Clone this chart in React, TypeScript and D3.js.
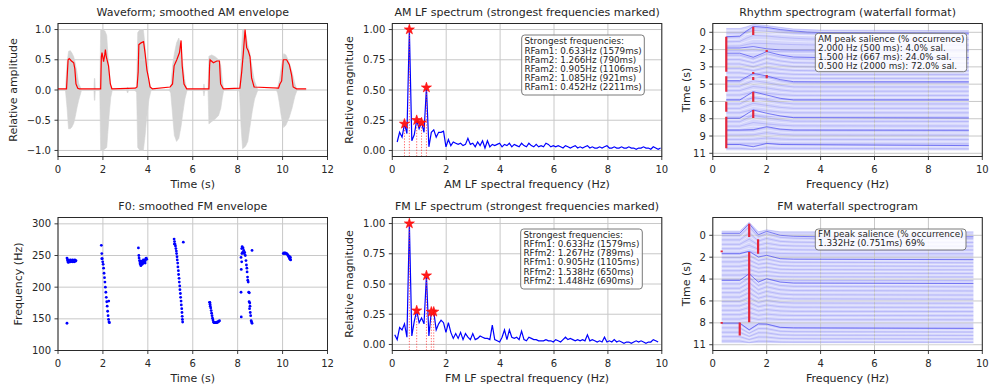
import React from "react";
import * as d3 from "d3";

const FONT = "'DejaVu Sans', sans-serif";
const TXT = "#262626";

// ---------- layout ----------
const COLS = [58, 392.3, 712.8];
const ROWS = [23.5, 217.5];
const PW = 269.5;
const PH = 133;

// ---------- data: waveform (envelope of the gray waveform) ----------
const wfT = [0, 0.33, 0.4, 0.47, 0.55, 0.62, 0.7, 0.77, 0.84, 0.92, 1.05,
  1.6, 1.62, 1.64, 1.66,
  1.86, 1.9, 2.0, 2.1, 2.17, 2.22, 2.28, 2.35, 2.42,
  3.05, 3.1, 3.15,
  3.42, 3.5, 3.55, 3.65, 3.8, 3.88, 3.95, 4.05, 4.15,
  4.95, 5.02, 5.1, 5.18, 5.28, 5.38, 5.48, 5.55, 5.65, 5.75,
  6.46, 6.5, 6.54,
  6.68, 6.72, 6.85, 7.0, 7.15, 7.25, 7.32, 7.38,
  8.0, 8.08, 8.15, 8.22, 8.35, 8.45, 8.55, 8.65, 8.75, 8.9,
  9.72, 9.78, 9.85, 9.95, 10.05, 10.15, 10.3, 10.42, 10.55, 10.65, 11.05];
const wfHi = [0, 0, 0.44, 0.64, 0.65, 0.61, 0.55, 0.44, 0.3, 0.11, 0,
  0, 0.19, 0.19, 0,
  0, 1.0, 1.0, 0.97, 0.9, 0.6, 0.3, 0.08, 0,
  0, 0.05, 0,
  0, 0.04, 0.95, 1.0, 1.0, 0.72, 0.4, 0.15, 0,
  0, 0.05, 0.4, 0.6, 0.78, 0.86, 0.7, 0.45, 0.15, 0,
  0, 0.1, 0,
  0, 0.56, 0.58, 0.55, 0.5, 0.4, 0.15, 0,
  0, 0.03, 0.5, 1.0, 0.95, 0.75, 0.6, 0.35, 0.15, 0,
  0, 0.05, 0.15, 0.4, 0.6, 0.58, 0.45, 0.3, 0.1, 0, 0];
const wfLo = [0, 0, -0.28, -0.64, -0.64, -0.61, -0.55, -0.44, -0.3, -0.17, 0,
  0, -0.17, -0.17, 0,
  0, -1.0, -1.0, -0.97, -0.95, -0.7, -0.4, -0.12, 0,
  0, -0.05, 0,
  0, -0.04, -0.95, -1.0, -1.0, -0.75, -0.45, -0.15, 0,
  0, -0.05, -0.4, -0.75, -0.85, -0.8, -0.6, -0.4, -0.15, 0,
  0, -0.1, 0,
  0, -0.56, -0.52, -0.48, -0.42, -0.3, -0.12, 0,
  0, -0.03, -0.6, -0.97, -0.93, -0.85, -0.6, -0.35, -0.15, 0,
  0, -0.05, -0.2, -0.45, -0.62, -0.58, -0.45, -0.3, -0.1, 0, 0];

// smoothed AM envelope (red)
const amEnvT = [0, 0.38, 0.42, 0.45, 0.5, 0.6, 0.7, 0.75, 0.8, 0.88, 0.95,
  1.9, 1.93, 1.96, 2.03, 2.08, 2.11, 2.15, 2.25, 2.33, 2.4,
  3.44, 3.52, 3.57, 3.6, 3.7, 3.81, 3.88, 3.96, 4.03, 4.1, 4.2,
  4.99, 5.1, 5.17, 5.29, 5.41, 5.48, 5.53, 5.61, 5.73,
  6.72, 6.75, 6.77, 6.92, 7.07, 7.19, 7.24, 7.36,
  8.1, 8.18, 8.25, 8.3, 8.33, 8.4, 8.47, 8.55, 8.62, 8.73,
  9.82, 9.88, 9.96, 10.03, 10.18, 10.3, 10.4, 10.47, 10.62, 11.05];
const amEnvV = [0.02, 0.02, 0.3, 0.5, 0.52, 0.48, 0.45, 0.35, 0.1, 0.03, 0.02,
  0.02, 0.55, 0.62, 0.47, 0.58, 0.67, 0.55, 0.4, 0.1, 0.02,
  0.03, 0.05, 0.3, 0.75, 0.78, 0.8, 0.6, 0.33, 0.2, 0.05, 0.02,
  0.05, 0.1, 0.4, 0.5, 0.62, 0.82, 0.4, 0.1, 0.02,
  0.02, 0.4, 0.5, 0.45, 0.48, 0.48, 0.1, 0.02,
  0.03, 0.3, 0.6, 0.85, 1.0, 0.7, 0.65, 0.55, 0.2, 0.05,
  0.03, 0.1, 0.15, 0.5, 0.5, 0.42, 0.25, 0.05, 0.02, 0.02];

// ---------- data: F0 points (time s, Hz) ----------
const f0Points: [number, number][] = [
  [0.4, 143],
  [0.4, 246], [0.42, 243], [0.44, 240], [0.46, 239], [0.48, 240], [0.5, 241], [0.52, 240], [0.54, 241], [0.56, 240],
  [0.58, 241], [0.6, 242], [0.62, 241], [0.64, 240], [0.66, 241], [0.68, 242], [0.7, 241], [0.72, 240], [0.74, 241],
  [0.76, 242], [0.78, 241], [0.8, 242], [0.45, 243], [0.55, 243], [0.65, 243], [0.75, 243],
  [1.93, 266], [1.95, 253], [1.97, 245], [1.99, 240], [2.01, 236], [2.03, 230], [2.05, 222], [2.07, 215], [2.09, 208],
  [2.11, 200], [2.13, 192], [2.15, 184], [2.17, 177], [2.19, 170], [2.21, 162], [2.23, 155], [2.25, 149], [2.27, 145],
  [2.29, 144], [2.26, 178], [1.95, 245],
  [3.58, 262], [3.6, 250], [3.61, 246], [3.63, 242], [3.65, 238], [3.67, 236], [3.69, 234], [3.71, 236], [3.73, 238],
  [3.75, 236], [3.77, 240], [3.79, 238], [3.81, 241], [3.83, 239], [3.85, 242], [3.87, 241], [3.89, 243], [3.91, 245],
  [3.93, 246], [3.95, 244], [3.66, 241], [3.72, 241], [3.8, 243], [3.88, 238],
  [5.17, 276], [5.19, 272], [5.21, 268], [5.23, 265], [5.25, 261], [5.27, 257], [5.28, 253], [5.3, 248], [5.31, 243],
  [5.33, 238], [5.34, 232], [5.36, 226], [5.37, 220], [5.39, 214], [5.4, 208], [5.42, 202], [5.43, 196], [5.45, 190],
  [5.46, 184], [5.48, 178], [5.49, 172], [5.51, 166], [5.52, 160], [5.53, 154], [5.54, 149], [5.55, 145], [5.58, 271],
  [5.18, 268],
  [6.75, 176], [6.77, 173], [6.78, 170], [6.8, 167], [6.82, 163], [6.84, 159], [6.86, 155], [6.88, 151], [6.9, 148],
  [6.92, 145], [6.95, 144], [6.98, 144], [7.01, 144], [7.04, 144], [7.07, 144], [7.1, 145], [7.13, 145], [7.16, 146],
  [7.19, 147], [6.76, 176],
  [8.18, 261], [8.2, 264], [8.24, 262], [8.27, 258], [8.22, 255], [8.29, 253], [8.19, 253], [8.31, 255], [8.34, 250],
  [8.15, 247], [8.37, 242], [8.18, 240], [8.39, 235], [8.41, 230], [8.16, 228], [8.42, 224], [8.44, 216], [8.45, 211],
  [8.47, 208], [8.15, 192], [8.49, 192], [8.52, 191], [8.51, 177], [8.54, 175], [8.55, 170], [8.53, 166], [8.56, 160],
  [8.58, 155], [8.6, 147], [8.62, 145], [8.64, 143], [8.16, 153], [8.64, 258],
  [10.03, 253], [10.06, 254], [10.09, 253], [10.12, 254], [10.15, 253], [10.18, 253], [10.21, 252], [10.24, 250],
  [10.27, 248], [10.3, 246], [10.33, 244], [10.36, 243], [10.3, 249], [10.35, 247],
];

// ---------- data: LF spectra ----------
const SPEC_STEP = 0.0905; // Hz per bin
const amSpecStart = 2; // first bin index
const amSpec = [
  0.07, 0.15, 0.11, 0.22, 0.14, 1.0, 0.08, 0.13, 0.25, 0.18,
  0.23, 0.15, 0.52, 0.03, 0.15, 0.17, 0.11, 0.15, 0.15, 0.16,
  0.03, 0.09, 0.04, 0.07, 0.06, 0.05, 0.06, 0.04, 0.05, 0.1,
  0.05, 0.06, 0.03, 0.07, 0.04, 0.08, 0.02, 0.08, 0.03, 0.05,
  0.04, 0.05, 0.06, 0.03, 0.05, 0.04, 0.06, 0.03, 0.05, 0.04,
  0.03, 0.06, 0.04, 0.03, 0.06, 0.04, 0.03, 0.05, 0.03, 0.04,
  0.03, 0.06, 0.05, 0.03, 0.04, 0.03, 0.04, 0.03, 0.02, 0.04,
  0.03, 0.02, 0.03, 0.04, 0.02, 0.03, 0.02, 0.03, 0.04, 0.02,
  0.03, 0.02, 0.02, 0.03, 0.02, 0.03, 0.04, 0.02, 0.02, 0.03,
  0.02, 0.02, 0.03, 0.02, 0.02, 0.03, 0.02, 0.02, 0.01, 0.02,
  0.02, 0.03, 0.02, 0.02, 0.01, 0.03, 0.02, 0.01, 0.02];
const fmSpecStart = 1;
const fmSpec = [
  0.08, 0.04, 0.14, 0.12, 0.17, 0.06, 1.0, 0.07, 0.19, 0.28,
  0.18, 0.22, 0.17, 0.57, 0.07, 0.27, 0.27, 0.12, 0.17, 0.2,
  0.18, 0.1, 0.18, 0.1, 0.05, 0.09, 0.05, 0.1, 0.04, 0.09,
  0.06, 0.04, 0.09, 0.04, 0.05, 0.07, 0.06, 0.05, 0.05, 0.04,
  0.16, 0.04, 0.03, 0.02, 0.06, 0.12, 0.04, 0.12, 0.06, 0.05,
  0.06, 0.04, 0.11, 0.04, 0.03, 0.06, 0.05, 0.04, 0.04, 0.03,
  0.03, 0.03, 0.04, 0.03, 0.03, 0.02, 0.04, 0.03, 0.02, 0.04,
  0.06, 0.04, 0.05, 0.04, 0.03, 0.04, 0.03, 0.04, 0.03, 0.08,
  0.03, 0.04, 0.03, 0.02, 0.03, 0.02, 0.06, 0.02, 0.03, 0.02,
  0.04, 0.02, 0.03, 0.02, 0.01, 0.02, 0.02, 0.01, 0.02, 0.03,
  0.02, 0.03, 0.02, 0.01, 0.02, 0.02, 0.04, 0.03, 0.02];

const amPeakF = [0.633, 1.266, 0.905, 1.085, 0.452];
const amPeakV = [1.0, 0.52, 0.25, 0.23, 0.22];
const fmPeakF = [0.633, 1.267, 0.905, 1.538, 1.448];
const fmPeakV = [1.0, 0.57, 0.28, 0.27, 0.27];

const amLegend = ["Strongest frequencies:", "RFam1: 0.633Hz (1579ms)", "RFam2: 1.266Hz (790ms)",
  "RFam2: 0.905Hz (1106ms)", "RFam2: 1.085Hz (921ms)", "RFam1: 0.452Hz (2211ms)"];
const fmLegend = ["Strongest frequencies:", "RFfm1: 0.633Hz (1579ms)", "RFfm2: 1.267Hz (789ms)",
  "RFfm1: 0.905Hz (1105ms)", "RFfm2: 1.538Hz (650ms)", "RFfm2: 1.448Hz (690ms)"];

// ---------- data: waterfalls ----------
const amWfTickVals = [0, 11 / 7, 22 / 7, 33 / 7, 44 / 7, 55 / 7, 66 / 7, 11];
const amWfTickLabels = ["0", "2", "3", "5", "6", "8", "9", "11"];
const fmWfTickVals = [0, 2.2, 4.4, 6.6, 8.8, 11];
const fmWfTickLabels = ["0", "2", "4", "6", "8", "11"];

const amWfTop: [number, number][] = [[0.5, -0.35], [1.0, -0.35], [1.25, -0.5], [1.5, -0.72], [2.0, -0.62], [2.5, -0.45], [3.0, -0.3], [4.0, -0.2], [9.5, -0.15]];
const amWfRows: [number, number][][] = [
  [[0.5, 0.4], [1.0, 0.35], [1.25, -0.12], [1.5, -0.53], [2.0, -0.44], [2.5, -0.25], [3.0, -0.12], [3.5, -0.03], [4.0, 0.02], [9.5, 0.06]],
  [[0.5, 1.43], [1.0, 1.43], [1.5, 1.3], [2.0, 1.5], [2.5, 1.6], [3.0, 1.62], [9.5, 1.62]],
  [[0.5, 1.9], [1.0, 1.9], [1.5, 2.27], [2.0, 1.76], [2.5, 2.06], [3.0, 2.25], [4.0, 2.3], [9.5, 2.3]],
  [[0.5, 4.4], [1.0, 4.4], [1.5, 3.73], [2.0, 3.97], [2.5, 4.3], [3.0, 4.49], [4.0, 4.5], [9.5, 4.5]],
  [[0.5, 6.15], [1.0, 6.15], [1.5, 5.4], [2.0, 5.7], [2.5, 6.0], [3.0, 6.15], [9.5, 6.15]],
  [[0.5, 7.82], [1.0, 7.82], [1.5, 7.06], [2.0, 7.36], [2.5, 7.6], [3.0, 7.76], [9.5, 7.8]],
  [[0.5, 8.88], [1.0, 8.88], [1.5, 8.85], [2.0, 8.58], [2.5, 8.8], [3.0, 8.88], [9.5, 8.9]],
  [[0.5, 10.2], [1.0, 10.2], [1.5, 10.4], [2.0, 10.1], [2.5, 10.2], [9.5, 10.3]],
];
const amWfBottom = 10.75;
// red peak markers: [freq, t start, t end]
const amWfRuns: [number, number, number][] = [
  [0.5, 0.4, 3.58], [0.5, 4.0, 5.4], [0.5, 6.31, 7.22], [0.5, 7.67, 10.55],
  [1.5, -0.51, 0.25], [1.5, 3.62, 3.8], [1.5, 4.06, 4.34], [1.5, 5.4, 6.31], [1.5, 7.06, 7.79],
  [2.0, 1.6, 1.78], [2.0, 3.88, 4.18],
];
const amWfLegend = ["AM peak salience (% occurrence)", "2.000 Hz (500 ms): 4.0% sal.",
  "1.500 Hz (667 ms): 24.0% sal.", "0.500 Hz (2000 ms): 72.0% sal."];

const fmWfTop: [number, number][] = [[0.33, -0.42], [1.0, -0.42], [1.35, -1.3], [1.69, -0.35], [2.0, -0.55], [2.5, -0.35], [3.0, -0.35], [9.67, -0.35]];
const fmWfRows: [number, number][][] = [
  [[0.33, -0.2], [1.0, -0.2], [1.35, -1.17], [1.69, -0.05], [2.0, -0.4], [2.5, 0.0], [3.0, 0.1], [4.0, 0.15], [9.67, 0.15]],
  [[0.33, 1.85], [1.0, 1.85], [1.35, 1.61], [1.69, 2.18], [2.0, 2.01], [2.5, 2.35], [3.0, 2.4], [9.67, 2.45]],
  [[0.33, 4.53], [1.0, 4.53], [1.35, 3.86], [1.69, 4.7], [2.0, 4.36], [2.5, 4.7], [3.0, 4.8], [9.67, 4.85]],
  [[0.33, 8.82], [1.0, 8.82], [1.35, 9.5], [1.69, 8.9], [2.0, 8.92], [2.5, 9.25], [3.0, 9.3], [9.67, 9.35]],
];
const fmWfBottom = 10.85;
const fmWfRuns: [number, number, number][] = [
  [1.35, -1.17, 0.17], [1.68, 0.4, 1.85], [0.33, 1.52, 1.7], [1.35, 1.68, 8.75], [0.33, 8.72, 8.9], [1.0, 8.77, 10.06],
];
const fmWfLegend = ["FM peak salience (% occurrence)", "1.332Hz (0.751ms) 69%"];

type Sc = d3.ScaleLinear<number, number>;

type AxesProps = {
  id: string; x: number; y: number;
  xDomain: [number, number]; yDomain: [number, number];
  xTicks: number[]; xTickLabels?: string[];
  yTicks: number[]; yTickLabels: string[];
  title: string; xTitle: string; yTitle: string; yTitleDx: number;
  under?: (xs: Sc, ys: Sc) => React.ReactNode;
  children?: (xs: Sc, ys: Sc) => React.ReactNode;
  over?: (xs: Sc, ys: Sc) => React.ReactNode;
};

function Axes(p: AxesProps) {
  const { x, y } = p;
  const xs = d3.scaleLinear().domain(p.xDomain).range([x, x + PW]);
  const ys = d3.scaleLinear().domain(p.yDomain).range([y + PH, y]);
  const clip = `clip-${p.id}`;
  const xl = p.xTickLabels ?? p.xTicks.map((t) => String(t));
  return (
    <g>
      <defs>
        <clipPath id={clip}><rect x={x} y={y} width={PW} height={PH} /></clipPath>
      </defs>
      <g clipPath={`url(#${clip})`}>{p.under?.(xs, ys)}</g>
      <g stroke="#c8c8c8" strokeWidth={1}>
        {p.xTicks.map((t) => <line key={"gx" + t} x1={xs(t)} x2={xs(t)} y1={y} y2={y + PH} />)}
        {p.yTicks.map((t) => <line key={"gy" + t} x1={x} x2={x + PW} y1={ys(t)} y2={ys(t)} />)}
      </g>
      <g clipPath={`url(#${clip})`}>{p.children?.(xs, ys)}</g>
      {p.over?.(xs, ys)}
      <rect x={x} y={y} width={PW} height={PH} fill="none" stroke="#2a2a2a" strokeWidth={1} />
      <g stroke="#2a2a2a" strokeWidth={0.9}>
        {p.xTicks.map((t) => <line key={"tx" + t} x1={xs(t)} x2={xs(t)} y1={y + PH} y2={y + PH + 3.5} />)}
        {p.yTicks.map((t) => <line key={"ty" + t} x1={x - 3.5} x2={x} y1={ys(t)} y2={ys(t)} />)}
      </g>
      <g fontSize={10} fill={TXT} fontFamily={FONT}>
        {p.xTicks.map((t, i) => (
          <text key={"lx" + t} x={xs(t)} y={y + PH + 16.5} textAnchor="middle">{xl[i]}</text>
        ))}
        {p.yTicks.map((t, i) => (
          <text key={"ly" + t} x={x - 7} y={ys(t) + 3.6} textAnchor="end">{p.yTickLabels[i]}</text>
        ))}
      </g>
      <text x={x + PW / 2} y={y - 7.5} textAnchor="middle" fontSize={11} fill={TXT} fontFamily={FONT}>{p.title}</text>
      <text x={x + PW / 2} y={y + PH + 31.5} textAnchor="middle" fontSize={11} fill={TXT} fontFamily={FONT}>{p.xTitle}</text>
      <text transform={`translate(${x + p.yTitleDx},${y + PH / 2}) rotate(-90)`} textAnchor="middle" dy="0.35em"
        fontSize={11} fill={TXT} fontFamily={FONT}>{p.yTitle}</text>
    </g>
  );
}

function TextBox({ x, y, w, h, lines, lh, first }: { x: number; y: number; w: number; h: number; lines: string[]; lh: number; first: number }) {
  return (
    <g>
      <rect x={x} y={y} width={w} height={h} rx={3} fill="#fff" fillOpacity={0.85} stroke="#7a7a7a" strokeWidth={1} />
      {lines.map((s, i) => (
        <text key={i} x={x + 2.8} y={y + first + i * lh} fontSize={8.8} fill={TXT} fontFamily={FONT}>{s}</text>
      ))}
    </g>
  );
}

const spectrumLine = (xs: Sc, ys: Sc, vals: number[], start: number) =>
  d3.line<number>().x((_, i) => xs((i + start) * SPEC_STEP)).y((v) => ys(v))(vals) ?? "";

function waterfallParts(topEdge: [number, number][], rows: [number, number][][], fMin: number, fMax: number, tBottom: number, nLines: number) {
  const refs = [topEdge, ...rows];
  const bases = refs.map((r) => r[0][1]);
  const t0 = bases[0];
  const bg: [number, number][][] = [];
  for (let j = 0; j < nLines; j++) {
    const tb = t0 + (j / (nLines - 1)) * (tBottom - t0);
    let k = 0;
    for (let m = 0; m < refs.length; m++) if (bases[m] <= tb) k = m;
    const next = k + 1 < refs.length ? bases[k + 1] : tBottom;
    const frac = Math.min(1, (tb - bases[k]) / Math.max(0.01, next - bases[k]));
    const decay = 1 - 0.85 * frac;
    bg.push(refs[k].map(([f, t]) => [f, tb + (t - bases[k]) * decay] as [number, number]));
  }
  const region: [number, number][] = [...topEdge, [fMax, tBottom], [fMin, tBottom]];
  return { bg, region };
}

function Waterfall(props: { xs: Sc; ys: Sc; top: [number, number][]; rows: [number, number][][]; fMin: number; fMax: number; bottom: number; n: number; part: "under" | "lines"; runs: [number, number, number][] }) {
  const { xs, ys } = props;
  const { bg, region } = waterfallParts(props.top, props.rows, props.fMin, props.fMax, props.bottom, props.n);
  const line = d3.line<[number, number]>().x((d) => xs(d[0])).y((d) => ys(d[1]));
  if (props.part === "under") {
    return <path d={(line(region) ?? "") + "Z"} fill="#d4d5fc" stroke="none" />;
  }
  return (
    <g>
      {bg.map((r, i) => (
        <path key={i} d={line(r) ?? ""} fill="none" stroke={i % 2 === 0 ? "#7577f0" : "#ffffff"} strokeOpacity={i % 2 === 0 ? 0.5 : 0.75} strokeWidth={0.6} />
      ))}
      {props.rows.map((r, i) => (
        <path key={"h" + i} d={line(r) ?? ""} fill="none" stroke="#4a4cf0" strokeOpacity={0.7} strokeWidth={1} />
      ))}
      {props.runs.map(([f, a, b], i) => (
        <line key={"r" + i} x1={xs(f)} x2={xs(f)} y1={ys(a)} y2={ys(b)} stroke="#e3263c" strokeWidth={2.2} />
      ))}
    </g>
  );
}

export default function App() {
  const fmt2 = (v: number) => v.toFixed(2);
  const star = d3.symbol(d3.symbolStar, 32)() ?? "";
  const specTicksY = [0, 0.25, 0.5, 0.75, 1.0];
  const tick10 = [0, 2, 4, 6, 8, 10];
  const tick12 = [0, 2, 4, 6, 8, 10, 12];
  const area = d3.area<number>();

  const peaks = (xs: Sc, ys: Sc, F: number[], V: number[]) => (
    <g>
      {F.map((f, i) => (
        <line key={"v" + i} x1={xs(f)} x2={xs(f)} y1={ys(-0.05)} y2={ys(V[i])} stroke="#ff3b3b" strokeOpacity={0.75} strokeWidth={1} strokeDasharray="1.3,1.5" />
      ))}
      {F.map((f, i) => (
        <path key={"s" + i} d={star} transform={`translate(${xs(f)},${ys(V[i])})`} fill="#ff1a1a" stroke="#ff0000" strokeWidth={0.6} />
      ))}
    </g>
  );

  return (
    <svg width={989} height={389} viewBox="0 0 989 389" style={{ position: "absolute", left: 0, top: 0, background: "#fff" }} fontFamily={FONT}>
      <rect width={989} height={389} fill="#fff" />

      {/* Panel 1: waveform */}
      <Axes id="p1" x={COLS[0]} y={ROWS[0]} xDomain={[0, 12]} yDomain={[-1.1, 1.1]}
        xTicks={tick12} yTicks={[-1, -0.5, 0, 0.5, 1]} yTickLabels={["\u22121.0", "\u22120.5", "0.0", "0.5", "1.0"]}
        title="Waveform; smoothed AM envelope" xTitle="Time (s)" yTitle="Relative amplitude" yTitleDx={-45}>
        {(xs, ys) => (
          <g>
            <path d={area.x((_, i) => xs(wfT[i])).y0((_, i) => ys(wfLo[i])).y1((v) => ys(v))(wfHi) ?? ""} fill="#d3d3d3" stroke="#d3d3d3" strokeWidth={0.6} />
            <path d={d3.line<number>().x((_, i) => xs(amEnvT[i])).y((v) => ys(v))(amEnvV) ?? ""} fill="none" stroke="#ff0000" strokeWidth={1.2} />
          </g>
        )}
      </Axes>

      {/* Panel 2: AM LF spectrum */}
      <Axes id="p2" x={COLS[1]} y={ROWS[0]} xDomain={[0, 10]} yDomain={[-0.05, 1.05]}
        xTicks={tick10} yTicks={specTicksY} yTickLabels={specTicksY.map(fmt2)}
        title="AM LF spectrum (strongest frequencies marked)" xTitle="AM LF spectral frequency (Hz)" yTitle="Relative magnitude" yTitleDx={-43}
        over={(xs, ys) => peaks(xs, ys, amPeakF, amPeakV)}>
        {(xs, ys) => <path d={spectrumLine(xs, ys, amSpec, amSpecStart)} fill="none" stroke="#0000ff" strokeWidth={1.2} />}
      </Axes>
      <TextBox x={521.7} y={35} w={122.6} h={60} lines={amLegend} lh={9.2} first={9.4} />

      {/* Panel 3: AM waterfall */}
      <Axes id="p3" x={COLS[2]} y={ROWS[0]} xDomain={[0, 10]} yDomain={[11.29, -0.8]}
        xTicks={tick10} yTicks={amWfTickVals} yTickLabels={amWfTickLabels}
        title="Rhythm spectrogram (waterfall format)" xTitle="Frequency (Hz)" yTitle="Time (s)" yTitleDx={-27}
        under={(xs, ys) => <Waterfall xs={xs} ys={ys} top={amWfTop} rows={amWfRows} fMin={0.5} fMax={9.5} bottom={amWfBottom} n={56} part="under" runs={amWfRuns} />}>
        {(xs, ys) => <Waterfall xs={xs} ys={ys} top={amWfTop} rows={amWfRows} fMin={0.5} fMax={9.5} bottom={amWfBottom} n={56} part="lines" runs={amWfRuns} />}
      </Axes>
      <TextBox x={815.3} y={33.3} w={151.4} h={38.4} lines={amWfLegend} lh={9.1} first={8.2} />

      {/* Panel 4: F0 */}
      <Axes id="p4" x={COLS[0]} y={ROWS[1]} xDomain={[0, 12]} yDomain={[100, 310]}
        xTicks={tick12} yTicks={[100, 150, 200, 250, 300]} yTickLabels={["100", "150", "200", "250", "300"]}
        title="F0: smoothed FM envelope" xTitle="Time (s)" yTitle="Frequency (Hz)" yTitleDx={-40}>
        {(xs, ys) => (
          <g fill="#0000ff">
            {f0Points.map(([t, f], i) => <circle key={i} cx={xs(t)} cy={ys(f)} r={1.4} />)}
          </g>
        )}
      </Axes>

      {/* Panel 5: FM LF spectrum */}
      <Axes id="p5" x={COLS[1]} y={ROWS[1]} xDomain={[0, 10]} yDomain={[-0.05, 1.05]}
        xTicks={tick10} yTicks={specTicksY} yTickLabels={specTicksY.map(fmt2)}
        title="FM LF spectrum (strongest frequencies marked)" xTitle="FM LF spectral frequency (Hz)" yTitle="Relative magnitude" yTitleDx={-43}
        over={(xs, ys) => peaks(xs, ys, fmPeakF, fmPeakV)}>
        {(xs, ys) => <path d={spectrumLine(xs, ys, fmSpec, fmSpecStart)} fill="none" stroke="#0000ff" strokeWidth={1.2} />}
      </Axes>
      <TextBox x={520.7} y={229} w={121.6} h={60} lines={fmLegend} lh={9.2} first={8.8} />

      {/* Panel 6: FM waterfall */}
      <Axes id="p6" x={COLS[2]} y={ROWS[1]} xDomain={[0, 10]} yDomain={[11.58, -1.79]}
        xTicks={tick10} yTicks={fmWfTickVals} yTickLabels={fmWfTickLabels}
        title="FM waterfall spectrogram" xTitle="Frequency (Hz)" yTitle="Time (s)" yTitleDx={-27}
        under={(xs, ys) => <Waterfall xs={xs} ys={ys} top={fmWfTop} rows={fmWfRows} fMin={0.33} fMax={9.67} bottom={fmWfBottom} n={52} part="under" runs={fmWfRuns} />}>
        {(xs, ys) => <Waterfall xs={xs} ys={ys} top={fmWfTop} rows={fmWfRows} fMin={0.33} fMax={9.67} bottom={fmWfBottom} n={52} part="lines" runs={fmWfRuns} />}
      </Axes>
      <TextBox x={815.3} y={229} w={150.7} h={21} lines={fmWfLegend} lh={9.1} first={7.6} />
    </svg>
  );
}
